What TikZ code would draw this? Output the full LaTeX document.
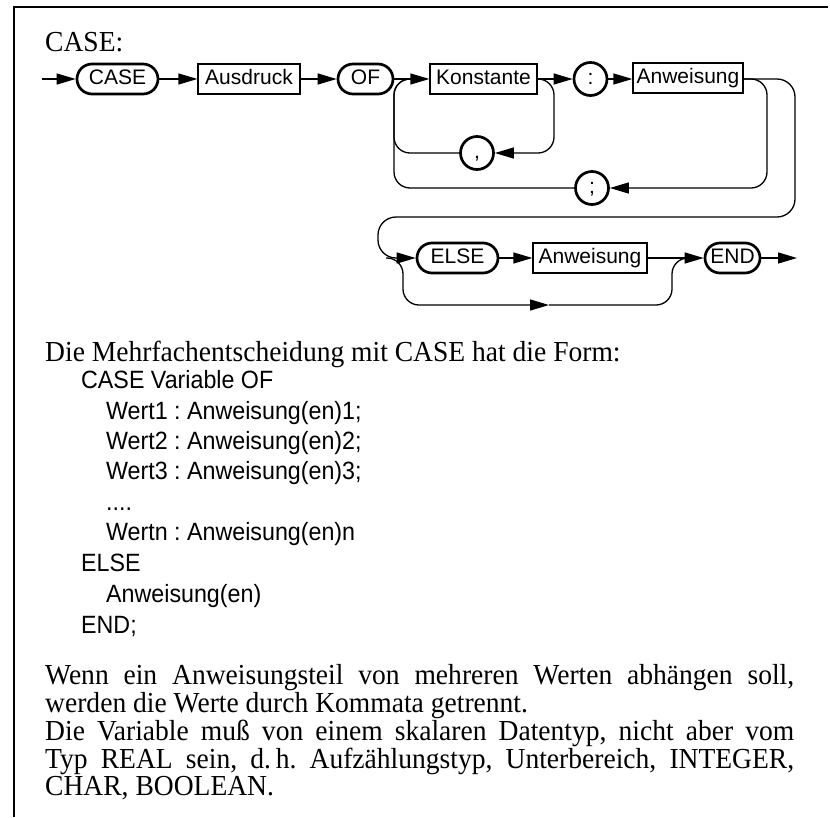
\documentclass[tikz,border=0pt]{standalone}
\usepackage{fontspec}
\setmainfont[FakeStretch=0.95]{Liberation Serif}
\newfontfamily\diagfont{Liberation Sans}
\newfontfamily\codefont[FakeStretch=0.93]{Liberation Sans}
\usetikzlibrary{arrows.meta}
\frenchspacing

\begin{document}
\begin{tikzpicture}[x=1pt,y=-1pt,
  conn/.style={line width=1.3pt},
  arr/.style={conn,-{Triangle[length=19pt,width=11pt]}},
  lbl/.style={font=\diagfont\fontsize{21}{21}\selectfont,text height=15pt,text depth=4pt},
  kw/.style={lbl,draw,line width=2.7pt,rounded corners=15pt,minimum height=30pt,inner sep=0pt},
  nt/.style={lbl,draw,line width=1.3pt,minimum height=30pt,inner sep=0pt},
  sym/.style={lbl,draw,circle,line width=2.7pt,minimum size=33pt,inner sep=0pt},
  loopline/.style={conn,rounded corners=16pt},
  prose/.style={anchor=base west,inner sep=0pt,font=\fontsize{29}{29}\selectfont},
  code/.style={anchor=base west,inner sep=0pt,font=\codefont\fontsize{25}{25}\selectfont},
]
\useasboundingbox (0,0) rectangle (830,817);

% frame
\draw[line width=1.8pt] (14,817) -- (14,7) -- (828,7);

% heading
\node[prose] (head) at (45,51) {CASE:};

% syntax diagram: first row
\coordinate (in) at (42,79);
\node[kw,minimum width=81pt]  (kcase) at (117.5,79) {CASE};
\node[nt,minimum width=102pt] (ausd)  at (249,79)   {Ausdruck};
\node[kw,minimum width=55pt]  (kof)   at (365.5,79) {OF};
\node[nt,minimum width=107pt] (konst) at (483.5,79) {Konstante};
\node[sym]                    (colon) at (590.5,79) {:};
\node[nt,minimum width=110pt] (anw1)  at (688,78)   {Anweisung};
\node[sym]                    (comma) at (477,153)  {,};
\node[sym]                    (semi)  at (592,188)  {;};

% second row
\node[kw,minimum width=81pt]  (kelse) at (457.5,258) {ELSE};
\node[nt,minimum width=114pt] (anw2)  at (590,258)   {Anweisung};
\node[kw,minimum width=55pt]  (kend)  at (732.5,258) {END};
\coordinate (out) at (797,258);

% corner points of the loops
\coordinate (jn) at (422,79);
\coordinate (cr) at (554,153);
\coordinate (cl) at (394,153);
\coordinate (sr) at (767,188);
\coordinate (sl) at (394,188);
\coordinate (o1) at (795,79);
\coordinate (o2) at (795,217);
\coordinate (o3) at (378,217);
\coordinate (o4) at (378,258);
\coordinate (b0) at (386,258);
\coordinate (b1) at (403,258);
\coordinate (b2) at (403,305);
\coordinate (bm) at (549,305);
\coordinate (b3) at (672,305);
\coordinate (b4) at (672,258);
\coordinate (b5) at (692,258);

% main line
\draw[arr] (in) -- (kcase);
\draw[arr] (kcase) -- (ausd);
\draw[arr] (ausd) -- (kof);
\draw[arr] (kof) -- (konst);
\draw[arr] (konst) -- (colon);
\draw[arr] (colon) -- (anw1.west |- colon);

% repetition with comma
\draw[arr,rounded corners=16pt] (konst.east) -| (cr) -- (comma);
\draw[loopline] (comma) -- (cl) |- (jn);

% repetition with semicolon
\draw[arr,rounded corners=16pt] (anw1.east |- colon) -| (sr) -- (semi);
\draw[loopline] (semi) -- (sl) |- (jn);

% wrap to the second row
\draw[arr,rounded corners=18pt] (anw1.east |- colon) -- (o1) -- (o2) -- (o3) -- (o4) -- (kelse);

% optional ELSE part
\draw[arr,rounded corners=16pt] (b0) -- (b1) -- (b2) -- (bm);
\draw[loopline] (bm) -- (b3) -- (b4) -- (b5);
\draw[arr] (kelse) -- (anw2);
\draw[arr] (anw2) -- (kend);
\draw[arr] (kend) -- (out);

% explanation
\node[prose] (t1) at (45,361) {Die Mehrfachentscheidung mit CASE hat die Form:};
\node[code] (c1) at (81,388) {CASE Variable OF};
\node[code] (c2) at (106,419) {Wert1 : Anweisung(en)1;};
\node[code] (c3) at (106,449) {Wert2 : Anweisung(en)2;};
\node[code] (c4) at (106,479) {Wert3 : Anweisung(en)3;};
\node[code] (c5) at (106,510) {....};
\node[code] (c6) at (106,540) {Wertn : Anweisung(en)n};
\node[code] (c7) at (81,571)  {ELSE};
\node[code] (c8) at (106,602) {Anweisung(en)};
\node[code] (c9) at (81,633)  {END;};

\node[prose] (p1) at (45,684) {\makebox[749pt][s]{Wenn ein Anweisungsteil von mehreren Werten abhängen soll,}};
\node[prose] (p2) at (45,712) {werden die Werte durch Kommata getrennt.};
\node[prose] (p3) at (45,740) {\makebox[749pt][s]{Die Variable muß von einem skalaren Datentyp, nicht aber vom}};
\node[prose] (p4) at (45,768) {\makebox[749pt][s]{Typ REAL sein, d.\,h. Aufzählungstyp, Unterbereich, INTEGER,}};
\node[prose] (p5) at (45,795) {CHAR, BOOLEAN.};
\end{tikzpicture}
\end{document}
